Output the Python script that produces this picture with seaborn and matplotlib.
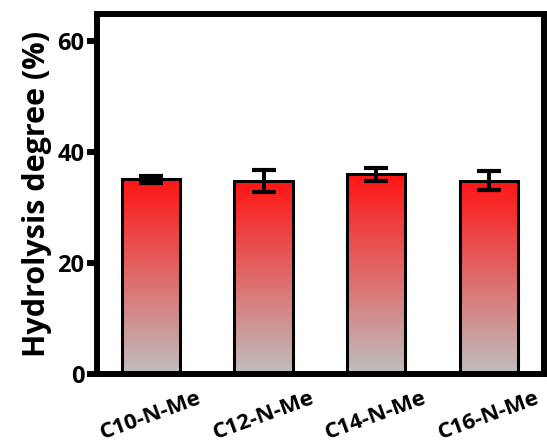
import numpy as np
import pandas as pd
import matplotlib
matplotlib.use("Agg")
import matplotlib.pyplot as plt
import seaborn as sns
from matplotlib.colors import LinearSegmentedColormap

categories = ["C10-N-Me", "C12-N-Me", "C14-N-Me", "C16-N-Me"]
values = [35.1, 34.8, 36.0, 34.9]
errors = [0.6, 2.0, 1.2, 1.7]
yticks = [0, 20, 40, 60]

sns.set_theme(style="white")
plt.rcParams["font.family"] = ["Open Sans", "DejaVu Sans"]
plt.rcParams["font.weight"] = "bold"
plt.rcParams["text.color"] = "black"
plt.rcParams["axes.labelcolor"] = "black"
plt.rcParams["xtick.color"] = "black"
plt.rcParams["ytick.color"] = "black"

df = pd.DataFrame({"cat": categories, "val": values})

fig = plt.figure(figsize=(5.47, 4.45), dpi=100)
ax = fig.add_axes([0.177, 0.160, 0.8175, 0.809])

sns.barplot(data=df, x="cat", y="val", ax=ax, width=0.52, errorbar=None,
            color="red", edgecolor="black", linewidth=2.2, zorder=2)

cmap = LinearSegmentedColormap.from_list("g", [(0.75, 0.75, 0.75), (1.0, 0.08, 0.08)])
grad = np.linspace(0, 1, 256).reshape(-1, 1)
for p in ax.patches:
    x0, y0 = p.get_x(), p.get_y()
    w, h = p.get_width(), p.get_height()
    p.set_facecolor("none")
    im = ax.imshow(grad, cmap=cmap, origin="lower", aspect="auto",
                   extent=[x0, x0 + w, y0, y0 + h], zorder=1.5)
    im.set_clip_path(p)

ax.errorbar(x=np.arange(len(categories)), y=values, yerr=errors, fmt="none",
            ecolor="black", elinewidth=2.8, capsize=8.5, capthick=3.0, zorder=3)

ax.set_xlim(-0.48, 3.49)
ax.set_ylim(0, 65)
ax.set_yticks(yticks)
ax.set_yticklabels([str(v) for v in yticks], fontsize=17, fontweight="bold", color="black")
ax.set_xticks(range(len(categories)))
ax.set_xticklabels(categories, rotation=20, ha="center", fontsize=16, fontweight="bold", color="black")
ax.set_xlabel("")
ax.set_ylabel("Hydrolysis degree (%)", fontsize=22, fontweight="bold", labelpad=4, color="black")

for s in ax.spines.values():
    s.set_linewidth(4.3)
    s.set_color("black")
ax.tick_params(axis="y", left=True, length=7, width=4.3, pad=2, color="black")
ax.tick_params(axis="x", bottom=False, pad=4)

fig.savefig("out.png", dpi=100)
